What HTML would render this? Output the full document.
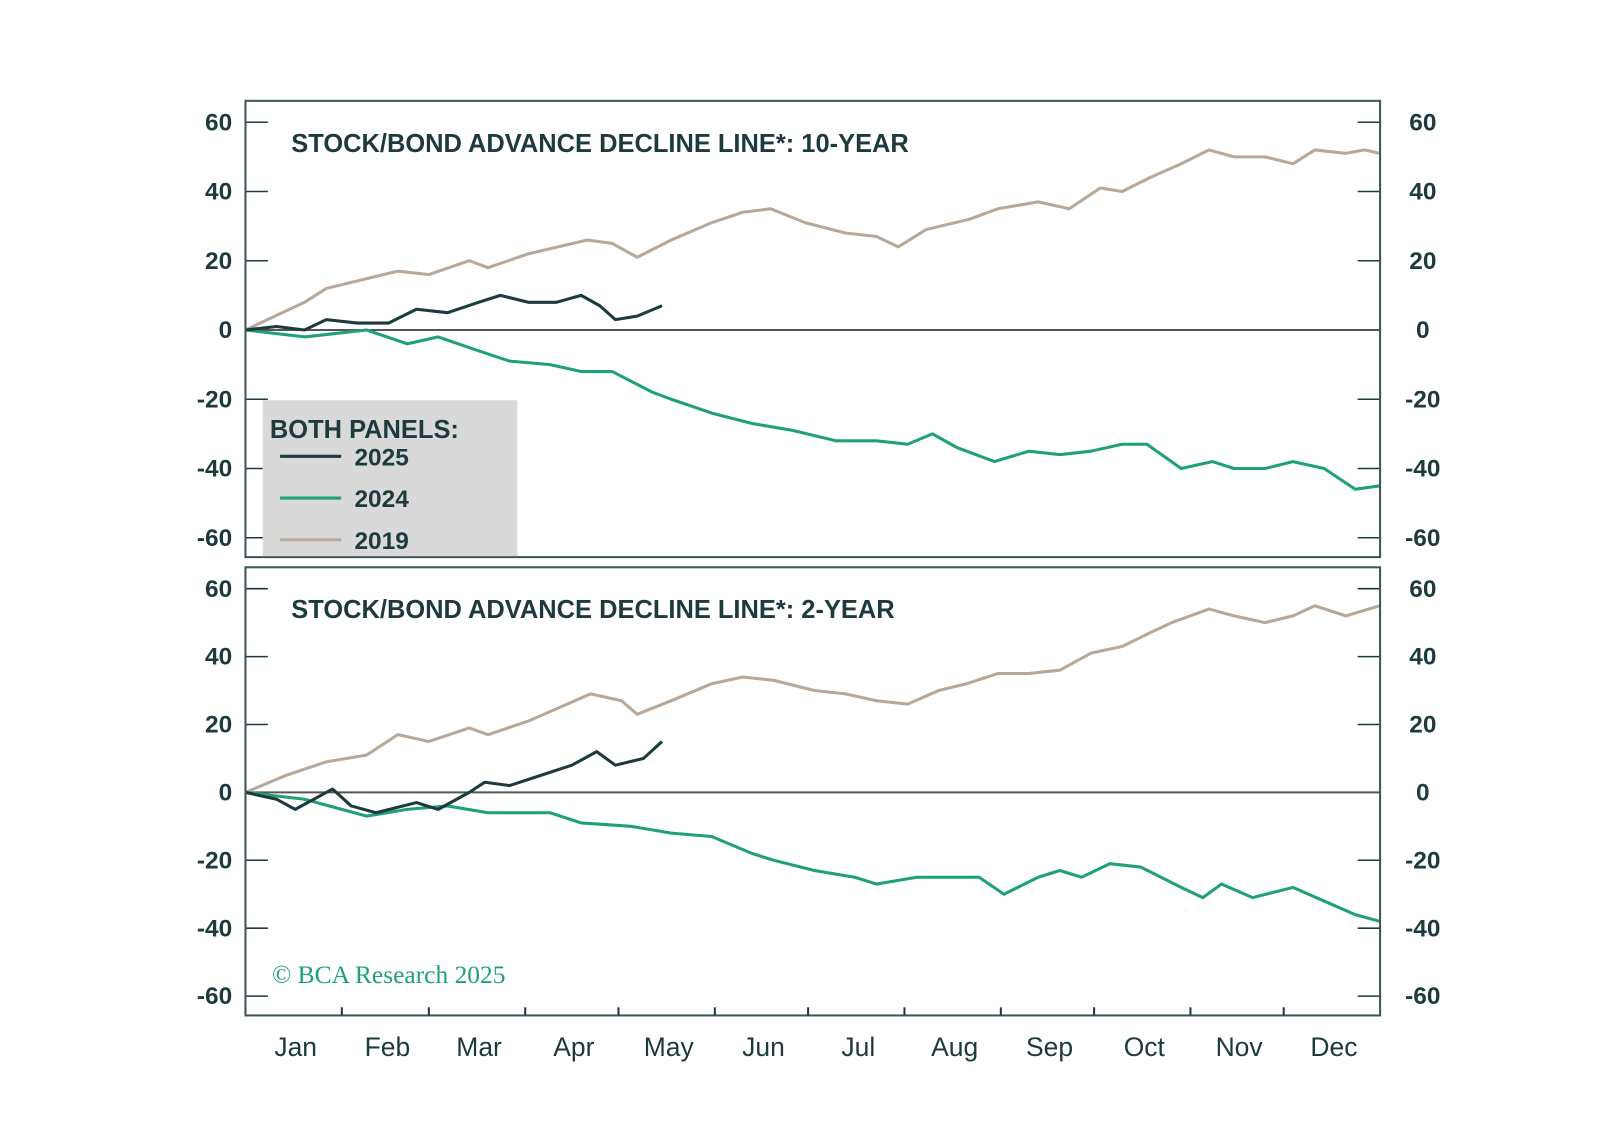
<!DOCTYPE html>
<html><head><meta charset="utf-8"><style>
html,body{margin:0;padding:0;background:#fff;}
svg{display:block;font-family:"Liberation Sans",sans-serif;}
</style></head><body>
<svg id="chart" width="1598" height="1144" viewBox="0 0 1598 1144" xmlns="http://www.w3.org/2000/svg">
<rect width="1598" height="1144" fill="#fff"/>
<g id="g" transform="scale(1.0185)"></g>
</svg>
<script>
const monthLabels=["Jan","Feb","Mar","Apr","May","Jun","Jul","Aug","Sep","Oct","Nov","Dec"];
const monthStarts=[0,31,59,90,120,151,181,212,243,273,304,334,365];
const yTicks=[60,40,20,0,-20,-40,-60];
const top2019Days=[0,19,26,49,59,72,78,91,110,118,126,137,150,160,169,180,193,203,210,219,233,242,255,265,275,282,291,301,310,318,328,337,344,354,360,365];
const top2019Vals=[0,8,12,17,16,20,18,22,26,25,21,26,31,34,35,31,28,27,24,29,32,35,37,35,41,40,44,48,52,50,50,48,52,51,52,51];
const top2024Days=[0,19,39,52,62,75,85,98,108,118,131,137,150,163,176,190,203,213,221,229,241,252,262,272,282,290,301,311,318,328,337,347,357,365];
const top2024Vals=[0,-2,0,-4,-2,-6,-9,-10,-12,-12,-18,-20,-24,-27,-29,-32,-32,-33,-30,-34,-38,-35,-36,-35,-33,-33,-40,-38,-40,-40,-38,-40,-46,-45];
const top2025Days=[0,10,19,26,36,46,55,65,75,82,91,100,108,114,119,126,134];
const top2025Vals=[0,1,0,3,2,2,6,5,8,10,8,8,10,7,3,4,7];
const bot2019Days=[0,13,26,39,49,59,72,78,91,111,121,126,137,150,160,170,183,193,203,213,223,232,242,252,262,272,282,291,298,310,318,328,337,344,354,365];
const bot2019Vals=[0,5,9,11,17,15,19,17,21,29,27,23,27,32,34,33,30,29,27,26,30,32,35,35,36,41,43,47,50,54,52,50,52,55,52,55];
const bot2024Days=[0,19,39,52,65,78,98,108,124,137,150,163,170,183,196,203,216,229,236,244,255,262,269,278,288,301,308,314,324,337,347,357,365];
const bot2024Vals=[0,-2,-7,-5,-4,-6,-6,-9,-10,-12,-13,-18,-20,-23,-25,-27,-25,-25,-25,-30,-25,-23,-25,-21,-22,-28,-31,-27,-31,-28,-32,-36,-38];
const bot2025Days=[0,10,16,28,34,42,55,62,72,77,85,95,105,113,119,128,134];
const bot2025Vals=[0,-2,-5,1,-4,-6,-3,-5,0,3,2,5,8,12,8,10,15];

const NS="http://www.w3.org/2000/svg";
const g=document.getElementById('g');
const X0=241,X1=1355;
const x=d=>X0+d*(X1-X0)/365;
const panels=[{top:99,bot:547,y60:120,yn60:528,title:"STOCK/BOND ADVANCE DECLINE LINE*: 10-YEAR",name:"ten-year"},
 {top:557,bot:997,y60:578,yn60:978,title:"STOCK/BOND ADVANCE DECLINE LINE*: 2-YEAR",name:"two-year"}];
function mk(tag,attrs,parent){const e=document.createElementNS(NS,tag);for(const k in attrs)e.setAttribute(k,attrs[k]);(parent||g).appendChild(e);return e;}
const DARK="#1d3a3d",GREEN="#1ea078",TAN="#b9a797";
const series=[[ [top2019Days,top2019Vals],[top2024Days,top2024Vals],[top2025Days,top2025Vals] ],
 [ [bot2019Days,bot2019Vals],[bot2024Days,bot2024Vals],[bot2025Days,bot2025Vals] ]];
const cols=[TAN,GREEN,DARK],names=["2019","2024","2025"];
panels.forEach((p,pi)=>{
 const y=v=>p.y60+(60-v)*(p.yn60-p.y60)/120;
 const pg=mk('g',{});
 
 
 yTicks.forEach(t=>{
  const yy=y(t);
  mk('line',{x1:X0,x2:X0+22,y1:yy,y2:yy,stroke:DARK,'stroke-width':1.5},pg);
  mk('line',{x1:X1-22,x2:X1,y1:yy,y2:yy,stroke:DARK,'stroke-width':1.5},pg);
  const l=mk('text',{x:228,y:yy+8,'text-anchor':'end','font-size':24,fill:DARK,'font-weight':'bold'},pg);l.textContent=t;
  
  
  const r=mk('text',{x:1397,y:yy+8,'text-anchor':'middle','font-size':24,fill:DARK,'font-weight':'bold'},pg);r.textContent=t;
  
  
 });
 mk('line',{x1:X0,x2:X1,y1:y(0),y2:y(0),stroke:"#555",'stroke-width':2},pg);
 series[pi].forEach((s,si)=>{
  const pts=s[0].map((d,i)=>x(d).toFixed(1)+','+y(s[1][i]).toFixed(1)).join(' ');
  const pl=mk('polyline',{points:pts,fill:'none',stroke:cols[si],'stroke-width':3,'stroke-linejoin':'round'},pg);
  
  
 });
 const t=mk('text',{x:286,y:p.top+50,'font-size':25,fill:DARK,'font-weight':'bold'},pg);t.textContent=p.title;
 
 
 mk('rect',{x:X0,y:p.top,width:X1-X0,height:p.bot-p.top,fill:'none',stroke:"#3d5558",'stroke-width':2},pg);
});
const lg=mk('g',{});


mk('rect',{x:258,y:393,width:250,height:153,fill:'#d9d9d9'},lg);
const lt=mk('text',{x:265,y:430,'font-size':25,fill:DARK,'font-weight':'bold'},lg);lt.textContent="BOTH PANELS:";
[[DARK,"2025",448],[GREEN,"2024",489],[TAN,"2019",530]].forEach(e=>{
 const eg=mk('g',{},lg);
 
 
 mk('line',{x1:275,x2:335,y1:e[2],y2:e[2],stroke:e[0],'stroke-width':3},eg);
 const tx=mk('text',{x:348,y:e[2]+9,'font-size':24,fill:DARK,'font-weight':'bold'},eg);tx.textContent=e[1];
});
for(let i=1;i<12;i++){mk('line',{x1:x(monthStarts[i]),x2:x(monthStarts[i]),y1:989,y2:997,stroke:DARK,'stroke-width':2});}
monthLabels.forEach((m,i)=>{
 const t=mk('text',{x:x((monthStarts[i]+monthStarts[i+1])/2)+2,y:1037,'text-anchor':'middle','font-size':26,fill:DARK});
 t.textContent=m;
 
 
});
const c=mk('text',{x:267,y:965,'font-size':25,fill:GREEN,'font-family':'Liberation Serif, serif'});
c.textContent="© BCA Research 2025";


</script>
</body></html>
